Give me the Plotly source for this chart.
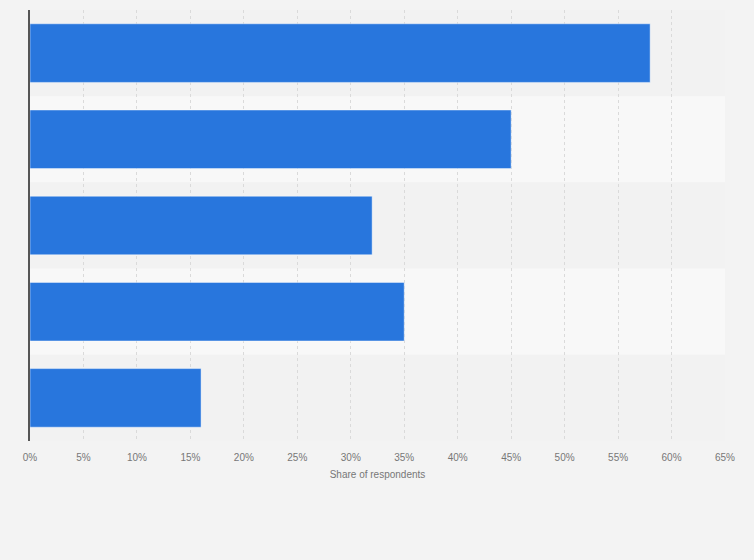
import plotly.graph_objects as go

# Data (category labels are not shown there)
categories = ["Category 1", "Category 2", "Category 3", "Category 4", "Category 5"]
shares = [58, 45, 32, 35, 16]
tick_values = list(range(0, 70, 5))
tick_labels = [f"{v}%" for v in tick_values]

fig = go.Figure()
fig.add_trace(go.Bar(
    x=shares,
    y=categories,
    orientation="h",
    marker_color="#2876dd",
    marker_line_color="rgba(255,255,255,0.45)",
    marker_line_width=1,
    hovertemplate="%{y}: %{x}%<extra></extra>",
))

# alternating row bands behind the grid
for i, cat in enumerate(categories):
    fig.add_shape(
        type="rect", xref="paper", yref="y", layer="below",
        x0=0, x1=1, y0=i - 0.5, y1=i + 0.5,
        fillcolor="#f2f2f2" if i % 2 == 0 else "#f8f8f8",
        line_width=0,
    )

fig.update_layout(
    width=754, height=560,
    margin=dict(l=30, r=29, t=10, b=119),
    paper_bgcolor="#f3f3f3",
    plot_bgcolor="#f2f2f2",
    bargap=0.32,
    showlegend=False,
    font=dict(family="Liberation Sans, Arial, sans-serif", size=10, color="#777777"),
)
fig.update_xaxes(
    range=[0, 65],
    tickvals=tick_values,
    ticktext=tick_labels,
    showgrid=True,
    gridcolor="#dadada",
    griddash="dot",
    gridwidth=1,
    zeroline=False,
    ticklabelstandoff=9,
    tickfont=dict(size=10, color="#777777"),
    title=dict(text="Share of respondents", font=dict(size=10, color="#777777"), standoff=8),
)
fig.update_yaxes(
    autorange="reversed",
    showticklabels=False,
    showgrid=False,
    showline=True,
    linecolor="#555555",
    linewidth=1.5,
)

# drop the page's default body margin so the chart fills the window
fig.write_html(
    "out.html",
    config={"displayModeBar": False},
    post_script="document.body.style.margin='0';",
)
